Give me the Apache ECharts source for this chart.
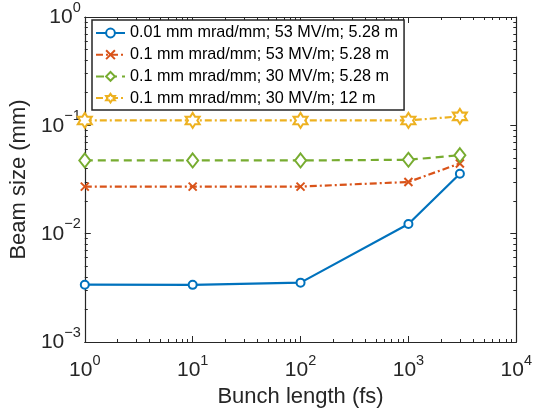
<!DOCTYPE html>
<html><head><meta charset="utf-8">
<script src="https://cdn.jsdelivr.net/npm/echarts@6/dist/echarts.min.js"></script>
<style>html,body{margin:0;padding:0;background:#fff}#c{width:535px;height:416px}</style>
</head><body><div id="c"></div>
<script>
const bunchLength = [1, 10, 100, 1000, 3000];
const seriesNames = [
  '0.01 mm mrad/mm; 53 MV/m; 5.28 m',
  '0.1 mm mrad/mm; 53 MV/m; 5.28 m',
  '0.1 mm mrad/mm; 30 MV/m; 5.28 m',
  '0.1 mm mrad/mm; 30 MV/m; 12 m'
];
const beamA = [0.00338, 0.00337, 0.00353, 0.01227, 0.0357];
const beamB = [0.0272, 0.0272, 0.0272, 0.0300, 0.0445];
const beamC = [0.0474, 0.0474, 0.0474, 0.0481, 0.0530];
const beamD = [0.111, 0.111, 0.111, 0.111, 0.121];
const xMajorTicks = [1, 10, 100, 1000, 10000];
const yMajorTicks = [0.001, 0.01, 0.1, 1];
const xTitle = 'Bunch length (fs)';
const yTitle = 'Beam size (mm)';

function minorTicks(majors) {
  const out = [];
  for (let i = 0; i < majors.length - 1; i++) {
    for (let k = 2; k <= 9; k++) out.push(+(majors[i] * k).toPrecision(6));
  }
  return out;
}
const xMinor = minorTicks(xMajorTicks);
const yMinor = minorTicks(yMajorTicks);

const FONT = '"Liberation Sans", Arial, Helvetica, sans-serif';
const AX = '#262626';
const colors = ['#0072BD', '#D95319', '#77AC30', '#EDB120'];
const hexagram = 'emptyPath://M0,-100L28.9,-50L86.6,-50L57.7,0L86.6,50L28.9,50L0,100L-28.9,50L-86.6,50L-57.7,0L-86.6,-50L-28.9,-50Z';

function powLabel(v) {
  const e = Math.round(Math.log10(v));
  return '{b|10}{s|' + String(e).replace('-', '\u2212') + '}';
}
const richLab = {
  b: { fontSize: 21, fontFamily: FONT, color: AX, lineHeight: 28, verticalAlign: 'bottom' },
  s: { fontSize: 14.5, fontFamily: FONT, color: AX, lineHeight: 14, verticalAlign: 'top' }
};

function axisCommon(pos, min, max) {
  return { type: 'log', logBase: 10, min: min, max: max, position: pos, gridIndex: 0,
    splitLine: { show: false }, minorTick: { show: false }, minorSplitLine: { show: false } };
}
function majorAxis(pos, min, max, ticks) {
  return Object.assign(axisCommon(pos, min, max), {
    axisLine: { show: true, lineStyle: { color: AX, width: 1.2 } },
    axisTick: { show: true, inside: true, length: 6, customValues: ticks, lineStyle: { color: AX, width: 1 } },
    axisLabel: { show: false }
  });
}
function minorAxis(pos, min, max, ticks) {
  return Object.assign(axisCommon(pos, min, max), {
    axisLine: { show: false },
    axisTick: { show: true, inside: true, length: 3, customValues: ticks, lineStyle: { color: AX, width: 1 } },
    axisLabel: { show: false }
  });
}

const xMain = majorAxis('bottom', 1, 10000, xMajorTicks);
xMain.axisLabel = { show: true, customValues: xMajorTicks, formatter: powLabel, rich: richLab, margin: 11, color: AX };
xMain.name = xTitle; xMain.nameLocation = 'middle'; xMain.nameGap = 41;
xMain.nameTextStyle = { fontSize: 22, fontFamily: FONT, color: AX };

const yMain = majorAxis('left', 0.001, 1, yMajorTicks);
yMain.axisLabel = { show: true, customValues: yMajorTicks, formatter: powLabel, rich: richLab, margin: 4, color: AX, padding: [0, 0, 6, 0] };
yMain.name = yTitle; yMain.nameLocation = 'middle'; yMain.nameGap = 50;
yMain.nameTextStyle = { fontSize: 22, fontFamily: FONT, color: AX };

const xAxes = [xMain, minorAxis('bottom', 1, 10000, xMinor), majorAxis('top', 1, 10000, xMajorTicks), minorAxis('top', 1, 10000, xMinor)];
const yAxes = [yMain, minorAxis('left', 0.001, 1, yMinor), majorAxis('right', 0.001, 1, yMajorTicks), minorAxis('right', 0.001, 1, yMinor)];

const allY = [beamA, beamB, beamC, beamD];
const symbols = ['emptyCircle', 'emptyPath://M0,0L10,10M10,0L0,10', 'emptyDiamond', hexagram];
const symbolSizes = [8, 8, [11, 14], [14, 15]];
const borderWidths = [1.8, 2.3, 1.8, 1.8];
const dashes = ['solid', [7, 3, 2, 3], [8, 5], [7, 3, 2, 3]];

const series = allY.map((ys, i) => ({
  name: seriesNames[i],
  type: 'line',
  xAxisIndex: 0, yAxisIndex: 0,
  data: bunchLength.map((x, j) => [x, ys[j]]),
  symbol: symbols[i],
  symbolSize: symbolSizes[i],
  showAllSymbol: true,
  color: colors[i],
  lineStyle: { color: colors[i], width: 2.2, type: dashes[i] },
  itemStyle: { color: colors[i], borderColor: colors[i], borderWidth: borderWidths[i] },
  emphasis: { disabled: true },
  animation: false
}));

const chart = echarts.init(document.getElementById('c'), null, { renderer: 'canvas' });
chart.setOption({
  animation: false,
  backgroundColor: '#fff',
  grid: { left: 81, right: 17, top: 15, bottom: 74, containLabel: false },
  xAxis: xAxes,
  yAxis: yAxes,
  legend: {
    orient: 'vertical', left: 92, top: 20,
    data: seriesNames,
    itemWidth: 29, itemHeight: 11, itemGap: 5.7,
    padding: [5, 6, 4, 3],
    backgroundColor: '#fff', borderColor: AX, borderWidth: 1.5,
    textStyle: { fontSize: 16.2, fontFamily: FONT, color: '#000', lineHeight: 16 },
    selectedMode: false
  },
  series: series
});
</script></body></html>
